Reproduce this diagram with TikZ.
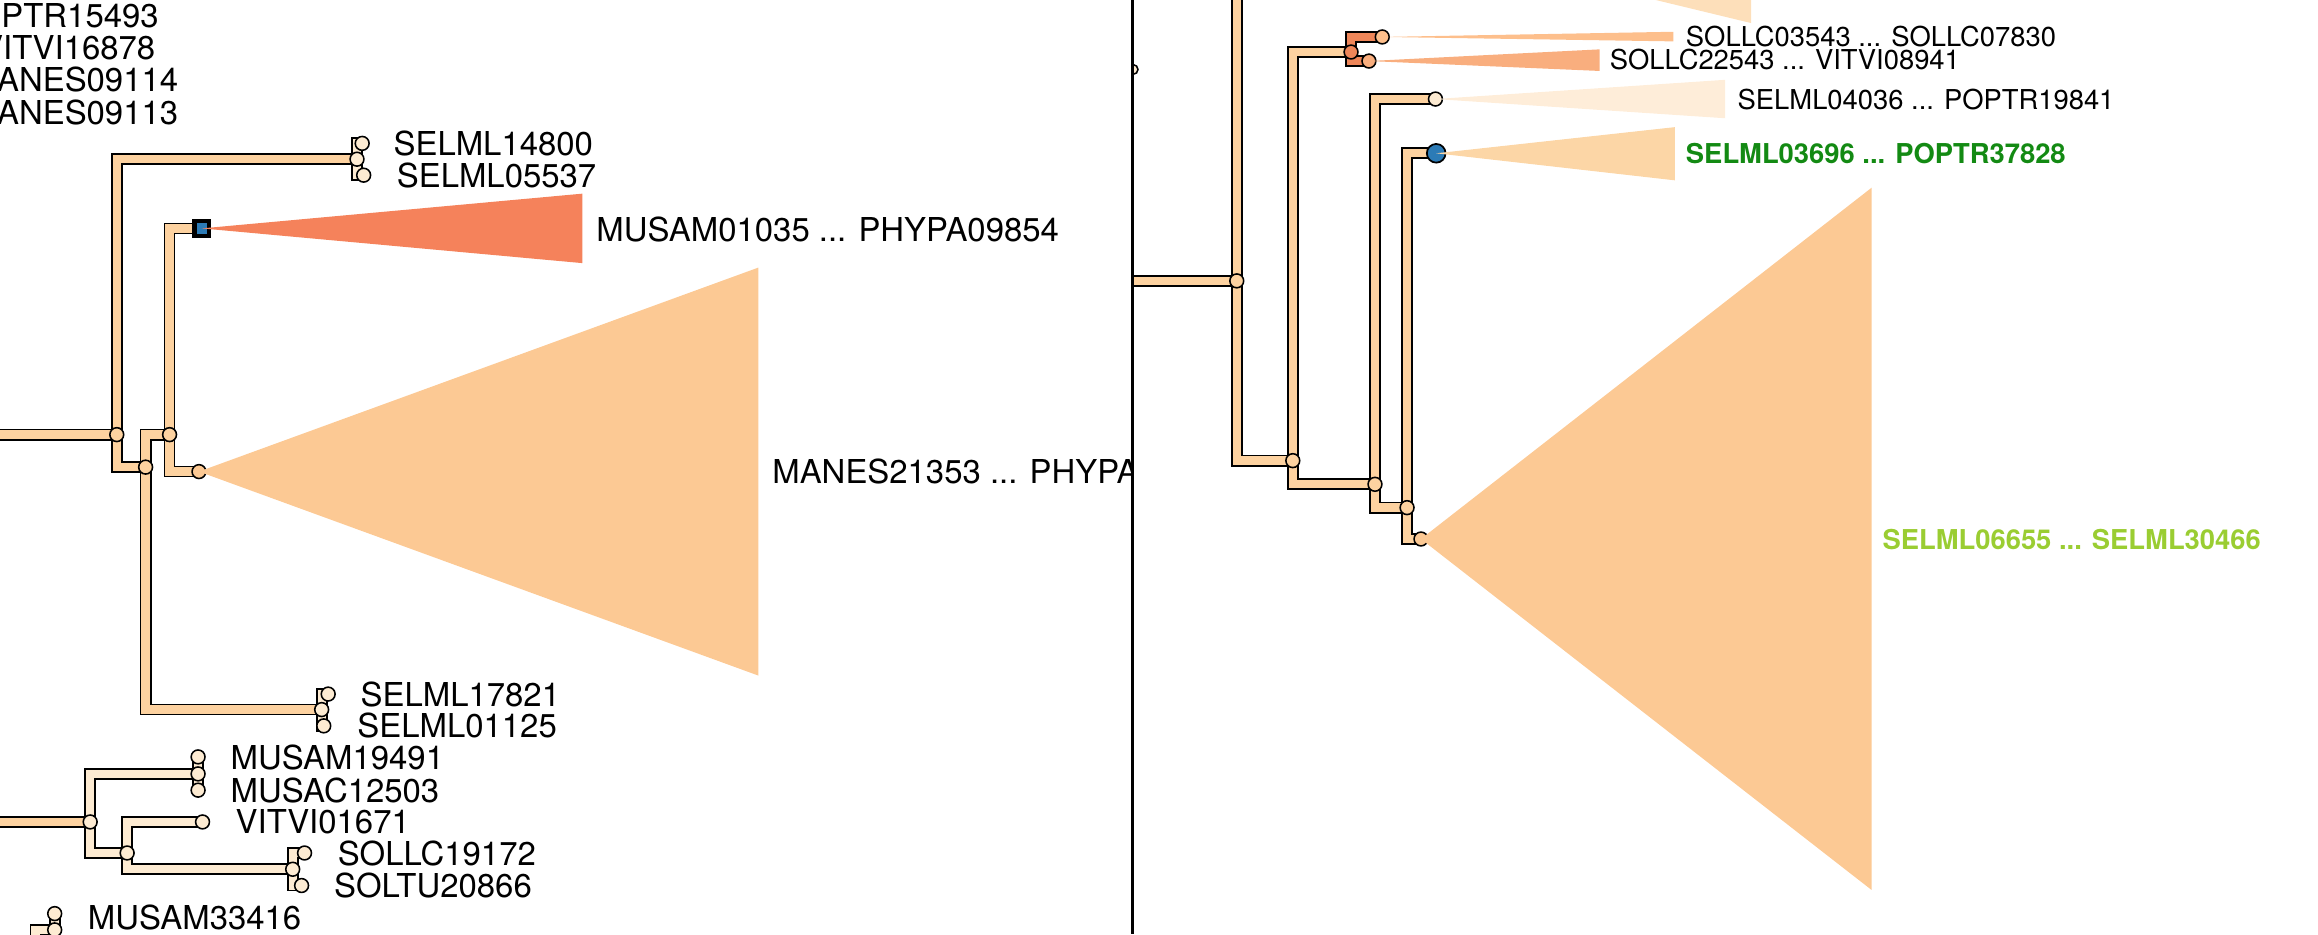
\documentclass[tikz,border=0pt]{standalone}
\usepackage{fontspec}
\setmainfont{TeX Gyre Heros}
\pgfdeclarelayer{bg}
\pgfsetlayers{bg,main}

\definecolor{peach}{HTML}{FDD2A0}
\definecolor{cream}{HTML}{FDEBD2}
\definecolor{manes}{HTML}{FCC994}
\definecolor{musam}{HTML}{F5825B}
\definecolor{sollcA}{HTML}{FDBF8C}
\definecolor{sollcB}{HTML}{F9AE7E}
\definecolor{selmlA}{HTML}{FEEDD9}
\definecolor{selmlB}{HTML}{FCD6A6}
\definecolor{toptri}{HTML}{FDDFBA}
\definecolor{salmon}{HTML}{EE8659}
\definecolor{bluen}{HTML}{2C7BB6}
\definecolor{greentxt}{HTML}{138A13}
\definecolor{limetxt}{HTML}{9ACD32}

\begin{document}
\begin{tikzpicture}[x=0.015cm, y=-0.015cm,
    br/.style={line width=0.5pt, double distance=2.4pt, double=#1},
    br/.default=peach,
    nd/.style={circle, draw, line width=0.45pt, fill=#1, minimum size=4pt, inner sep=0pt},
    nd/.default=peach,
    sqnode/.style={rectangle, draw, line width=1.2pt, fill=bluen, minimum size=4.2pt, inner sep=0pt},
    bluenode/.style={circle, draw, line width=0.5pt, fill=bluen, minimum size=5.4pt, inner sep=0pt},
    lbl/.style={anchor=west, inner sep=0pt, font=\fontsize{9.5}{11}\selectfont},
    rlbl/.style={anchor=west, inner sep=0pt, font=\fontsize{7.9}{9.5}\selectfont}]
  \useasboundingbox (0,0) rectangle (1568,632);
  \clip (0,0) rectangle (1568,632);

  % Left panel
  \begin{scope}
    \clip (0,0) rectangle (766,632);
    % Nodes
    \coordinate (inA) at (0,294);
    \coordinate (inD) at (0,556);
    \coordinate (inF5) at (24,645);
    \node[nd] (A) at (79,294) {};
    \node[nd] (B) at (98.5,316) {};
    \node[nd] (C) at (114.7,294) {};
    \node[nd=cream] (F1) at (241.5,107.7) {};
    \node[nd=cream] (l14800) at (245,97) {};
    \node[nd=cream] (l05537) at (246,118.5) {};
    \node[sqnode] (Q) at (136.5,154.5) {};
    \node[nd=manes] (L1) at (134.6,319) {};
    \node[nd=cream] (F2) at (217.6,480) {};
    \node[nd=cream] (l17821) at (222,469.5) {};
    \node[nd=cream] (l01125) at (219,491) {};
    \node[nd=cream] (D) at (61,556) {};
    \node[nd=cream] (E) at (86,577) {};
    \node[nd=cream] (F3) at (134,523.5) {};
    \node[nd=cream] (l19491) at (134,512) {};
    \node[nd=cream] (l12503) at (134,534.5) {};
    \node[nd=cream] (l01671) at (137,556) {};
    \node[nd=cream] (F4) at (198,588) {};
    \node[nd=cream] (l19172) at (206,577) {};
    \node[nd=cream] (l20866) at (204,599) {};
    \node[nd=cream] (F5) at (37,629) {};
    \node[nd=cream] (l33416) at (37,618) {};

    % Collapsed clades
    \fill[musam] (Q.center) -- (394,131) -- (394,178) -- cycle;
    \fill[manes] (L1.center) -- (513,181) -- (513,457) -- cycle;

    % Labels
    \node[lbl] (t15493) at (0.5,10.8) {PTR15493};
    \node[lbl, anchor=east] (t16878) at (105.5,32.5) {VITVI16878};
    \node[lbl, anchor=east] (t09114) at (121,54.1) {ANES09114};
    \node[lbl, anchor=east] (t09113) at (121,75.8) {ANES09113};
    \node[lbl] (t14800) at (265.8,97) {SELML14800};
    \node[lbl] (t05537) at (268,118.5) {SELML05537};
    \node[lbl] (t01035) at (403,155) {MUSAM01035 ... PHYPA09854};
    \node[lbl] (t21353) at (522,319) {MANES21353 ... PHYPA};
    \node[lbl] (t17821) at (243.5,469.8) {SELML17821};
    \node[lbl] (t01125) at (241.3,491) {SELML01125};
    \node[lbl] (t19491) at (155.6,512.6) {MUSAM19491};
    \node[lbl] (t12503) at (155.6,534.4) {MUSAC12503};
    \node[lbl] (t01671) at (159,556) {VITVI01671};
    \node[lbl] (t19172) at (228,577.4) {SOLLC19172};
    \node[lbl] (t20866) at (225.5,598.7) {SOLTU20866};
    \node[lbl] (t33416) at (59,620.4) {MUSAM33416};
  \end{scope}

  % Right panel
  \coordinate (inR) at (766,190);
  \coordinate (upR) at (836.6,-10);
  \begin{scope}
    \clip (766,0) rectangle (1568,632);
    \node[nd=cream, minimum size=2.8pt] (M0) at (766.5,47) {};
  \end{scope}
  \node[nd] (R1) at (836.6,190) {};
  \node[nd] (R2) at (874.5,311.6) {};
  \node[nd] (R3) at (930.1,327.6) {};
  \node[nd] (R4) at (951.8,343.4) {};
  \node[nd=salmon] (RF) at (913.9,35.2) {};
  \node[nd=sollcA] (l03543) at (935,25) {};
  \node[nd=sollcB] (l22543) at (926,41.3) {};
  \node[nd=cream] (l04036) at (971,67) {};
  \node[bluenode] (l03696) at (971.5,103.7) {};
  \node[nd=manes] (l06655) at (961.2,364.6) {};

  \fill[toptri] (1000,-29) -- (1184.5,15.6) -- (1184.5,-30) -- cycle;
  \fill[sollcA] (l03543.center) -- (1132,21.5) -- (1132,28) -- cycle;
  \fill[sollcB] (l22543.center) -- (1082,33.4) -- (1082,48) -- cycle;
  \fill[selmlA] (l04036.center) -- (1167,54) -- (1167,80) -- cycle;
  \fill[selmlB] (l03696.center) -- (1133,86) -- (1133,122) -- cycle;
  \fill[manes] (l06655.center) -- (1266,127) -- (1266,602) -- cycle;

  \node[rlbl] (t03543) at (1140,25) {SOLLC03543 ... SOLLC07830};
  \node[rlbl] (t22543) at (1088.5,40.6) {SOLLC22543 ... VITVI08941};
  \node[rlbl] (t04036) at (1175,67.6) {SELML04036 ... POPTR19841};
  \node[rlbl, text=greentxt, font=\fontsize{7.9}{9.5}\selectfont\bfseries] (t03696) at (1140,103.6) {SELML03696 ... POPTR37828};
  \node[rlbl, text=limetxt, font=\fontsize{7.9}{9.5}\selectfont\bfseries] (t06655) at (1273,365) {SELML06655 ... SELML30466};

  % Divider
  \draw[line width=1pt] (766,0) -- (766,632);

  % Edges
  \begin{pgfonlayer}{bg}
    \draw[br] (inA) -- (A.center);
    \draw[br] (A.center) |- (F1.center);
    \draw[br] (A.center) |- (B.center);
    \draw[br] (B.center) |- (C.center);
    \draw[br] (B.center) |- (F2.center);
    \draw[br] (C.center) |- (Q.center);
    \draw[br] (C.center) |- (L1.center);
    \draw[br=cream] (F1.center) |- (l14800.center);
    \draw[br=cream] (F1.center) |- (l05537.center);
    \draw[br=cream] (F2.center) |- (l17821.center);
    \draw[br=cream] (F2.center) |- (l01125.center);
    \draw[br] (inD) -- (D.center);
    \draw[br=cream] (D.center) |- (F3.center);
    \draw[br=cream] (D.center) |- (E.center);
    \draw[br=cream] (F3.center) -- (l19491.center);
    \draw[br=cream] (F3.center) -- (l12503.center);
    \draw[br=cream] (E.center) |- (l01671.center);
    \draw[br=cream] (E.center) |- (F4.center);
    \draw[br=cream] (F4.center) |- (l19172.center);
    \draw[br=cream] (F4.center) |- (l20866.center);
    \draw[br=cream] (inF5) |- (F5.center);
    \draw[br=cream] (F5.center) -- (l33416.center);

    \draw[br] (inR) -- (R1.center);
    \draw[br] (R1.center) -- (upR);
    \draw[br] (R1.center) |- (R2.center);
    \draw[br] (R2.center) |- (RF.center);
    \draw[br] (R2.center) |- (R3.center);
    \draw[br=salmon] (RF.center) |- (l03543.center);
    \draw[br=salmon] (RF.center) |- (l22543.center);
    \draw[br] (R3.center) |- (l04036.center);
    \draw[br] (R3.center) |- (R4.center);
    \draw[br] (R4.center) |- (l03696.center);
    \draw[br] (R4.center) |- (l06655.center);
  \end{pgfonlayer}
\end{tikzpicture}
\end{document}
